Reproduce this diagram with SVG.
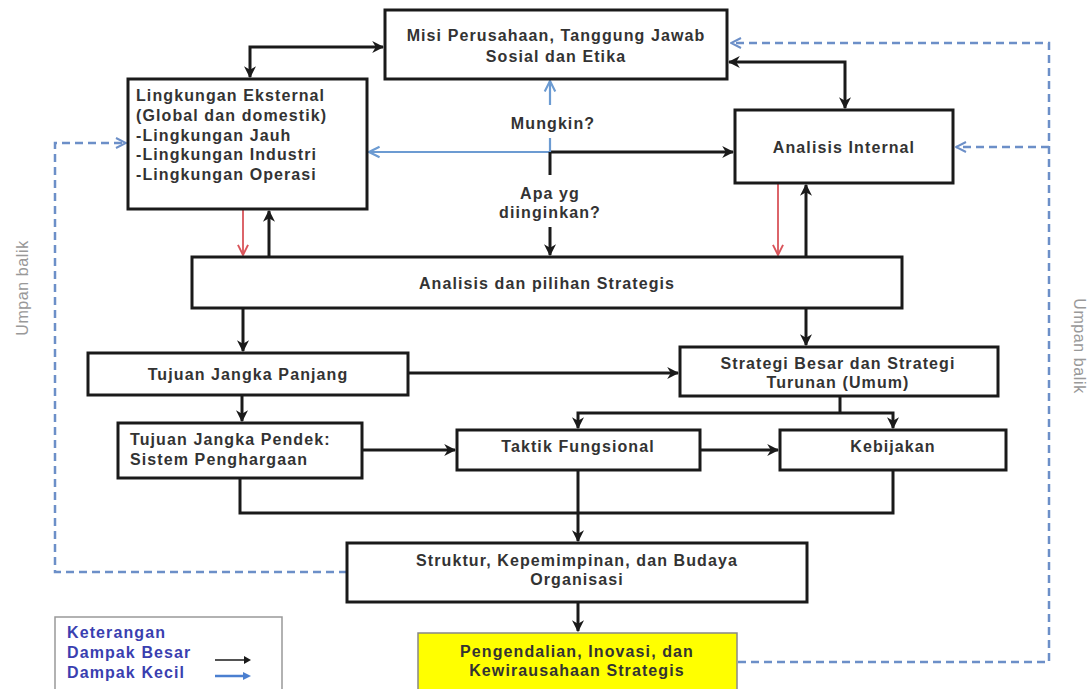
<svg xmlns="http://www.w3.org/2000/svg" width="1092" height="689" viewBox="0 0 1092 689">
<style>
.box{fill:#fff;stroke:#1a1a1a;stroke-width:3}
.t{font-family:"Liberation Sans",Arial,sans-serif;font-size:16px;font-weight:bold;letter-spacing:1.1px;fill:#333}
.c{text-anchor:middle}
.blk{fill:none;stroke:#1a1a1a;stroke-width:3}
.red{fill:none;stroke:#d9545a;stroke-width:1.8}
.blu{fill:none;stroke:#6c9bd2;stroke-width:2.2}
.dash{fill:none;stroke:#6c8fc8;stroke-width:2.5;stroke-dasharray:8 5}
.leg{font-family:"Liberation Sans",Arial,sans-serif;font-size:16px;font-weight:bold;letter-spacing:1.1px;fill:#3a3fb0}
.side{font-family:"Liberation Sans",Arial,sans-serif;font-size:16px;letter-spacing:0.6px;fill:#999}
</style>
<defs>
<marker id="ab" viewBox="0 0 10 10" refX="9" refY="5" markerWidth="4" markerHeight="4" orient="auto-start-reverse" markerUnits="strokeWidth">
<path d="M0,0 L10,5 L0,10 L3,5 z" fill="#1a1a1a"/>
</marker>
<marker id="ar" viewBox="0 0 10 10" refX="9" refY="5" markerWidth="7" markerHeight="7" orient="auto" markerUnits="strokeWidth">
<path d="M1,1 L9,5 L1,9" fill="none" stroke="#d9545a" stroke-width="1.5"/>
</marker>
<marker id="au" viewBox="0 0 10 10" refX="9" refY="5" markerWidth="6" markerHeight="6" orient="auto" markerUnits="strokeWidth">
<path d="M1,1 L9,5 L1,9" fill="none" stroke="#6c9bd2" stroke-width="1.6"/>
</marker>
<marker id="ad" viewBox="0 0 10 10" refX="9" refY="5" markerWidth="5" markerHeight="5" orient="auto" markerUnits="strokeWidth">
<path d="M1,1 L9,5 L1,9" fill="none" stroke="#6c8fc8" stroke-width="1.6"/>
</marker>
</defs>
<rect width="1092" height="689" fill="#fff"/>

<g id="connectors">
<path class="blk" d="M250,77 V47 H383" marker-start="url(#ab)" marker-end="url(#ab)"/>
<path class="blk" d="M729,62 H845 V108" marker-start="url(#ab)" marker-end="url(#ab)"/>
<path class="blu" d="M550,152 H369" marker-end="url(#au)"/>
<path class="blk" d="M550,152 H733" marker-end="url(#ab)"/>
<path class="blu" d="M550,105 V81" marker-end="url(#au)"/>
<path class="blu" d="M550,138 V152"/>
<path class="blk" d="M550,152 V175"/>
<path class="blk" d="M550,227 V255" marker-end="url(#ab)"/>
<path class="red" d="M243,210 V255" marker-end="url(#ar)"/>
<path class="blk" d="M269,257 V211" marker-end="url(#ab)"/>
<path class="red" d="M778,184 V255" marker-end="url(#ar)"/>
<path class="blk" d="M806,257 V185" marker-end="url(#ab)"/>
<path class="blk" d="M243,309 V351" marker-end="url(#ab)"/>
<path class="blk" d="M806,309 V345" marker-end="url(#ab)"/>
<path class="blk" d="M409,373 H678" marker-end="url(#ab)"/>
<path class="blk" d="M242,396 V421" marker-end="url(#ab)"/>
<path class="blk" d="M840,397 V413"/>
<path class="blk" d="M578,428 V413 H893 V428" marker-start="url(#ab)" marker-end="url(#ab)"/>
<path class="blk" d="M363,450 H455" marker-end="url(#ab)"/>
<path class="blk" d="M701,450 H778" marker-end="url(#ab)"/>
<path class="blk" d="M240,479 V513 H893 V471"/>
<path class="blk" d="M578,471 V541" marker-end="url(#ab)"/>
<path class="blk" d="M578,603 V631" marker-end="url(#ab)"/>
<path class="dash" d="M347,572 H55 V143 H126" marker-end="url(#ad)"/>
<path class="dash" d="M738,662 H1049 V43 H731" marker-end="url(#ad)"/>
<path class="dash" d="M1049,147 H956" marker-end="url(#ad)"/>
</g>

<g id="misi">
<rect class="box" x="385" y="10" width="342" height="69"/>
<text class="t c" x="556" y="41">Misi Perusahaan, Tanggung Jawab</text>
<text class="t c" x="556" y="62">Sosial dan Etika</text>
</g>

<g id="lingkungan">
<rect class="box" x="128" y="79" width="239" height="130"/>
<text class="t" x="136" y="101">Lingkungan Eksternal</text>
<text class="t" x="136" y="121">(Global dan domestik)</text>
<text class="t" x="136" y="141">-Lingkungan Jauh</text>
<text class="t" x="136" y="160">-Lingkungan Industri</text>
<text class="t" x="136" y="180">-Lingkungan Operasi</text>
</g>

<g id="analisis-internal">
<rect class="box" x="735" y="110" width="218" height="73"/>
<text class="t c" x="844" y="153">Analisis Internal</text>
</g>

<g id="labels-mid">
<text class="t c" x="553" y="129">Mungkin?</text>
<text class="t c" x="550" y="199">Apa yg</text>
<text class="t c" x="550" y="218">diinginkan?</text>
</g>

<g id="analisis-pilihan">
<rect class="box" x="192" y="257" width="710" height="51"/>
<text class="t c" x="547" y="289">Analisis dan pilihan Strategis</text>
</g>

<g id="tujuan-panjang">
<rect class="box" x="88" y="353" width="320" height="42"/>
<text class="t c" x="248" y="380">Tujuan Jangka Panjang</text>
</g>

<g id="strategi-besar">
<rect class="box" x="680" y="347" width="318" height="49"/>
<text class="t c" x="838" y="369">Strategi Besar dan Strategi</text>
<text class="t c" x="838" y="388">Turunan (Umum)</text>
</g>

<g id="tujuan-pendek">
<rect class="box" x="118" y="423" width="244" height="55"/>
<text class="t" x="130" y="445">Tujuan Jangka Pendek:</text>
<text class="t" x="130" y="465">Sistem Penghargaan</text>
</g>

<g id="taktik">
<rect class="box" x="457" y="430" width="243" height="40"/>
<text class="t c" x="578" y="452">Taktik Fungsional</text>
</g>

<g id="kebijakan">
<rect class="box" x="780" y="430" width="226" height="40"/>
<text class="t c" x="893" y="452">Kebijakan</text>
</g>

<g id="struktur">
<rect class="box" x="347" y="543" width="460" height="59"/>
<text class="t c" x="577" y="566">Struktur, Kepemimpinan, dan Budaya</text>
<text class="t c" x="577" y="585">Organisasi</text>
</g>

<g id="pengendalian">
<rect x="418" y="633" width="319" height="62" fill="#ffff00" stroke="#888" stroke-width="1.5"/>
<text class="t c" x="577" y="657">Pengendalian, Inovasi, dan</text>
<text class="t c" x="577" y="676">Kewirausahaan Strategis</text>
</g>

<g id="umpan-kiri">
<text class="side c" transform="translate(28,288) rotate(-90)">Umpan balik</text>
</g>
<g id="umpan-kanan">
<text class="side c" transform="translate(1074,346) rotate(90)">Umpan balik</text>
</g>

<g id="legend">
<rect x="55" y="617" width="227" height="80" fill="#fff" stroke="#999" stroke-width="1.5"/>
<text class="leg" x="67" y="638">Keterangan</text>
<text class="leg" x="67" y="658">Dampak Besar</text>
<text class="leg" x="67" y="678">Dampak Kecil</text>
<path d="M215,660 H246" stroke="#1a1a1a" stroke-width="1.5" fill="none"/>
<path d="M244,656 L251,660 L244,664 z" fill="#1a1a1a"/>
<path d="M215,676 H246" stroke="#4a7fd0" stroke-width="2.5" fill="none"/>
<path d="M243,672 L251,676 L243,680 z" fill="#4a7fd0"/>
</g>
</svg>
